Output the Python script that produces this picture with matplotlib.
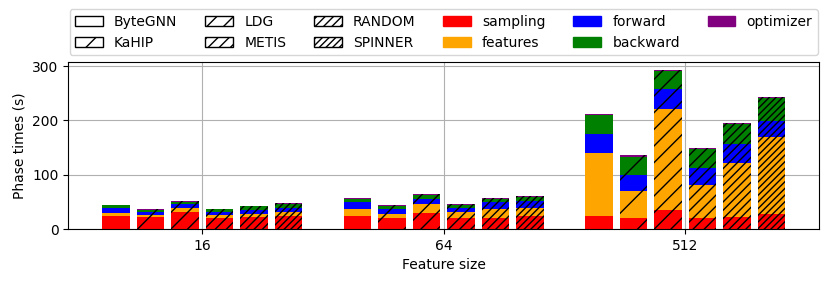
import numpy as np
import matplotlib
matplotlib.use("Agg")
import matplotlib.pyplot as plt
import matplotlib.patches as mpatches

# ---------- Data ----------
feature_sizes = ["16", "64", "512"]
partitioners = ["ByteGNN", "KaHIP", "LDG", "METIS", "RANDOM", "SPINNER"]
phases = ["sampling", "features", "forward", "backward", "optimizer"]

# phase times (s), one list per partitioner, one value per feature size
sampling = {
    "ByteGNN": [24.5, 24.6, 24.0],
    "KaHIP":   [22.7, 20.9, 20.3],
    "LDG":     [30.7, 30.1, 35.0],
    "METIS":   [20.9, 20.9, 20.3],
    "RANDOM":  [21.5, 20.9, 22.7],
    "SPINNER": [24.5, 24.6, 27.6],
}
features = {
    "ByteGNN": [5.5, 12.9, 116.6],
    "KaHIP":   [3.1, 7.3, 49.7],
    "LDG":     [7.3, 15.3, 186.0],
    "METIS":   [4.9, 9.8, 60.7],
    "RANDOM":  [6.7, 15.9, 99.5],
    "SPINNER": [7.4, 14.7, 142.4],
}
forward = {
    "ByteGNN": [8.7, 11.6, 35.0],
    "KaHIP":   [4.9, 8.6, 28.9],
    "LDG":     [8.7, 9.9, 36.0],
    "METIS":   [6.1, 8.6, 30.7],
    "RANDOM":  [7.4, 12.3, 34.4],
    "SPINNER": [7.4, 11.7, 29.6],
}
backward = {
    "ByteGNN": [5.0, 6.2, 34.4],
    "KaHIP":   [4.3, 5.6, 34.3],
    "LDG":     [3.6, 7.3, 33.7],
    "METIS":   [4.3, 4.3, 35.0],
    "RANDOM":  [6.1, 6.2, 36.8],
    "SPINNER": [6.1, 7.3, 41.1],
}
optimizer = {
    "ByteGNN": [1.2, 1.8, 2.4],
    "KaHIP":   [1.2, 1.8, 3.1],
    "LDG":     [1.3, 1.9, 2.0],
    "METIS":   [1.5, 1.8, 1.9],
    "RANDOM":  [1.3, 1.8, 2.5],
    "SPINNER": [1.8, 1.9, 2.4],
}

phase_data = [sampling, features, forward, backward, optimizer]
phase_colors = ["red", "orange", "blue", "green", "purple"]
# number of slashes in each partitioner's hatch
hatch_counts = [0, 1, 2, 3, 4, 5]
hatches = ["/" * n for n in hatch_counts]

# ---------- Plot ----------
fig, ax = plt.subplots(figsize=(8.31, 2.86), dpi=100)
fig.subplots_adjust(left=0.082, right=0.986, bottom=0.199, top=0.783)

x = np.arange(len(feature_sizes))
step = 1 / 7
width = 0.8 * step

for i, part in enumerate(partitioners):
    for j in range(len(feature_sizes)):
        pos = x[j] + (i - 2.5) * step
        bottom = 0.0
        for data, color in zip(phase_data, phase_colors):
            val = data[part][j]
            ax.bar(pos, val, width, bottom=bottom, color=color,
                   edgecolor="black", linewidth=0, hatch=hatches[i])
            bottom += val

ax.set_xticks(x)
ax.set_xticklabels(feature_sizes)
ax.set_xlabel("Feature size")
ax.set_ylabel("Phase times (s)")
ax.set_yticks([0, 100, 200, 300])
ax.grid(True)
ax.set_axisbelow(True)

# ---------- Legend ----------
handles = [mpatches.Patch(facecolor="white", edgecolor="black", hatch=h, label=p)
           for p, h in zip(partitioners, hatches)]
handles += [mpatches.Patch(color=c, label=ph)
            for ph, c in zip(phases, phase_colors)]
ax.legend(handles=handles, ncol=6, loc="lower center",
          bbox_to_anchor=(0.5, 1.0))

fig.savefig("out.png", dpi=100)
